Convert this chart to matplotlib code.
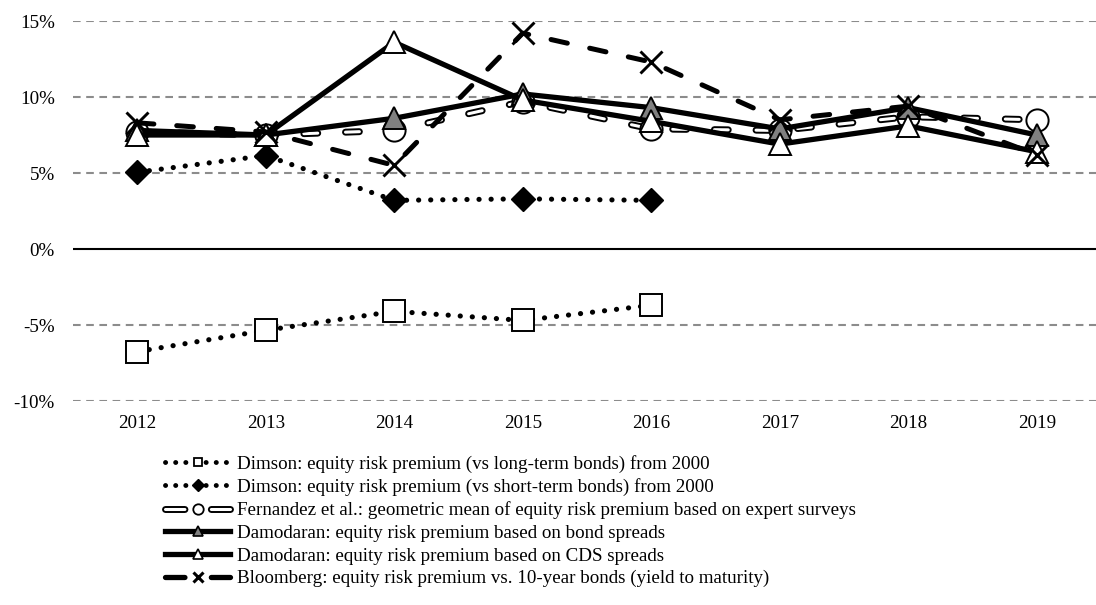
import matplotlib
matplotlib.use('Agg')
import matplotlib.pyplot as plt
from matplotlib.lines import Line2D
from matplotlib.legend_handler import HandlerTuple

plt.rcParams['font.family'] = ['Liberation Serif', 'DejaVu Serif']
plt.rcParams['lines.scale_dashes'] = False

years = ['2012', '2013', '2014', '2015', '2016', '2017', '2018', '2019']
dimson_long = [-6.75, -5.35, -4.1, -4.7, -3.7]
dimson_short = [5.05, 6.15, 3.2, 3.3, 3.2]
fernandez = [7.7, 7.5, 7.8, 9.7, 7.9, 7.8, 8.7, 8.5]
damodaran_bond = [7.8, 7.5, 8.6, 10.2, 9.3, 7.9, 9.3, 7.5]
damodaran_cds = [7.5, 7.5, 13.6, 9.8, 8.4, 6.9, 8.1, 6.4]
bloomberg = [8.3, 7.7, 5.5, 14.2, 12.3, 8.5, 9.4, 6.2]
yticks = [-10, -5, 0, 5, 10, 15]
ytick_labels = ['-10%', '-5%', '0%', '5%', '10%', '15%']
labels = [
    'Dimson: equity risk premium (vs long-term bonds) from 2000',
    'Dimson: equity risk premium (vs short-term bonds) from 2000',
    'Fernandez et al.: geometric mean of equity risk premium based on expert surveys',
    'Damodaran: equity risk premium based on bond spreads',
    'Damodaran: equity risk premium based on CDS spreads',
    'Bloomberg: equity risk premium vs. 10-year bonds (yield to maturity)',
]

W, H = 1096, 605
FS = 13.7
fig = plt.figure(figsize=(W / 100, H / 100), dpi=100)
left, right = 73, 1101
top, bottom = 21, 401
ax = fig.add_axes([left / W, 1 - bottom / H, (right - left) / W, (bottom - top) / H])
ax.set_xlim(-0.5, 7.5)
ax.set_ylim(-10, 15)
for s in ax.spines.values():
    s.set_visible(False)
ax.set_yticks(yticks)
ax.set_yticklabels(ytick_labels)
ax.set_xticks(range(len(years)))
ax.set_xticklabels(years)
ax.tick_params(length=0, labelsize=FS, colors='black')
ax.tick_params(axis='y', pad=13)
ax.tick_params(axis='x', pad=10)
for yv in yticks:
    if yv == 0:
        ax.axhline(0, color='black', lw=1.5, zorder=1)
    else:
        ax.axhline(yv, color='#8c8c8c', lw=1.5, ls=(0, (5.5, 4.0)), zorder=1)

x5 = list(range(len(dimson_long)))
x8 = list(range(len(years)))
dot = (0, (0.1, 8.6))
# Dimson long
ax.plot(x5, dimson_long, color='black', lw=3.7, ls=dot, dash_capstyle='round', zorder=2)
ax.plot(x5, dimson_long, ls='none', marker='s', ms=15.5, mfc='white', mec='black', mew=1.4, zorder=3)
# Dimson short
ax.plot(x5, dimson_short, color='black', lw=3.7, ls=dot, dash_capstyle='round', zorder=4)
ax.plot(x5, dimson_short, ls='none', marker='D', ms=12.5, mfc='black', mec='black', mew=1, zorder=5)
# Fernandez hollow dashes
fdash = (0, (10, 20))
ax.plot(x8, fernandez, color='black', lw=5, ls=fdash, dash_capstyle='round', zorder=6)
ax.plot(x8, fernandez, color='white', lw=2.2, ls=fdash, dash_capstyle='round', zorder=7)
ax.plot(x8, fernandez, ls='none', marker='o', ms=16, mfc='white', mec='black', mew=1.4, zorder=8)
# Damodaran bond
ax.plot(x8, damodaran_bond, color='black', lw=3.8, solid_capstyle='butt', zorder=9)
ax.plot(x8, damodaran_bond, ls='none', marker='^', ms=16, mfc='#808080', mec='black', mew=1.4, zorder=10)
# Damodaran CDS
ax.plot(x8, damodaran_cds, color='black', lw=3.8, solid_capstyle='butt', zorder=11)
ax.plot(x8, damodaran_cds, ls='none', marker='^', ms=16, mfc='white', mec='black', mew=1.4, zorder=12)
# Bloomberg
bdash = (0, (12, 16.5))
ax.plot(x8, bloomberg, color='black', lw=3.6, ls=bdash, dash_capstyle='round', zorder=13)
ax.plot(x8, bloomberg, ls='none', marker='x', ms=16, mec='black', mew=2.1, zorder=14)

# legend proxies
ldot = (0, (0.1, 7.2))
lseg = (0, (14.0, 19.0))
h1 = Line2D([], [], color='black', lw=3.5, ls=ldot, dash_capstyle='round', marker='s', ms=6.3, mfc='white', mec='black', mew=1.3)
h2 = Line2D([], [], color='black', lw=3.5, ls=ldot, dash_capstyle='round', marker='D', ms=6.0, mfc='black', mec='black')
h3a = Line2D([], [], color='black', lw=5, ls=lseg, dash_capstyle='round')
h3b = Line2D([], [], color='white', lw=2.2, ls=lseg, dash_capstyle='round')
h3c = Line2D([], [], ls='none', marker='o', ms=7.5, mfc='white', mec='black', mew=1.3)
h4 = Line2D([], [], color='black', lw=3.8, marker='^', ms=7.5, mfc='#808080', mec='black', mew=1.2)
h5 = Line2D([], [], color='black', lw=3.8, marker='^', ms=7.5, mfc='white', mec='black', mew=1.2)
h6a = Line2D([], [], color='black', lw=3.8, ls=lseg, dash_capstyle='round')
h6b = Line2D([], [], ls='none', marker='x', ms=6.5, mec='black', mew=2.2)
fig.legend([h1, h2, (h3a, h3b, h3c), h4, h5, (h6a, h6b)], labels,
           handler_map={tuple: HandlerTuple(ndivide=1, pad=0)},
           loc='upper left', bbox_to_anchor=(165 / W, 1 - 455 / H),
           frameon=False, fontsize=FS, handlelength=65 / (FS * 100 / 72), handletextpad=0.37,
           labelspacing=0.28, borderpad=0, borderaxespad=0)

fig.savefig('out.png', dpi=100)
